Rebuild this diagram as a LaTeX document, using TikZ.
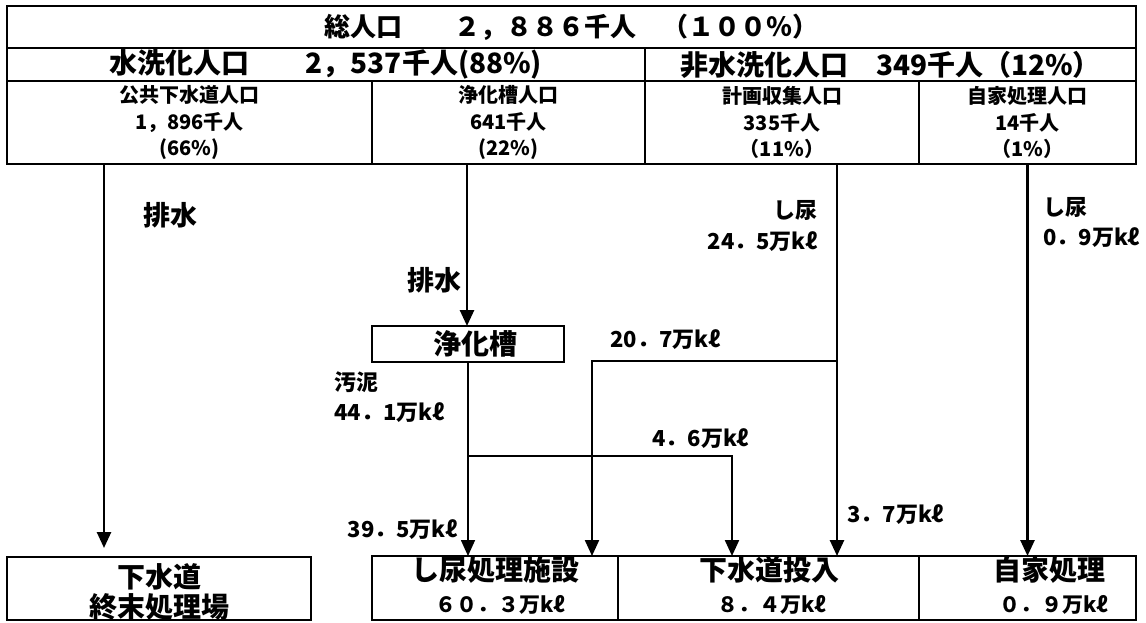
\documentclass[tikz,border=0pt]{standalone}
\usepackage{fontspec}
\setmainfont{Noto Sans CJK JP}
\usetikzlibrary{arrows.meta}
\begin{document}
\begin{tikzpicture}[x=1pt,y=-1pt,
  box/.style={draw, line width=2.6pt, inner sep=0pt, outer sep=0pt},
  cell/.style={box, align=center, font=\fontsize{20}{26.5}\selectfont\bfseries},
  tip/.style={-{Triangle[length=16pt,width=14pt]}},
  flow/.style={tip, line width=2.6pt},
  flowb/.style={tip, line width=2.2pt},
  flowc/.style={tip, line width=1.6pt},
  lbl/.style={inner sep=0pt, font=\fontsize{22}{22}\selectfont\bfseries},
  big/.style={inner sep=0pt, font=\fontsize{28}{28}\selectfont\bfseries},
  mid/.style={inner sep=0pt, font=\fontsize{21}{21}\selectfont\bfseries}
]
\useasboundingbox (0,0) rectangle (1146,622);
% top table
\node[box, minimum width=1129pt, minimum height=42pt, font=\fontsize{26}{26}\selectfont\bfseries] (total) at (571.5,27) {総人口　　２，８８６千人　（１００％）};
\node[box, minimum width=638pt, minimum height=33pt, font=\fontsize{28}{28}\selectfont\bfseries] (wash) at (326,64.5) {水洗化人口　　2，537千人(88\%)};
\node[box, minimum width=491pt, minimum height=33pt, font=\fontsize{28}{28}\selectfont\bfseries] (nonwash) at (890.5,64.5) {非水洗化人口　349千人（12\%）};
\node[cell, minimum width=365pt, minimum height=83pt] (pub) at (189.5,122.5) {公共下水道人口\\1，896千人\\(66\%)};
\node[cell, minimum width=273pt, minimum height=83pt] (sep) at (508.5,122.5) {浄化槽人口\\641千人\\(22\%)};
\node[cell, minimum width=274pt, minimum height=83pt] (plan) at (782,122.5) {計画収集人口\\335千人\\（11\%）};
\node[cell, minimum width=217pt, minimum height=83pt] (selfp) at (1027.5,122.5) {自家処理人口\\14千人\\（1\%）};
% septic tank
\node[box, minimum width=192pt, minimum height=36pt] (tank) at (468,344) {};
\node[big] (tanktxt) at (475,344) {浄化槽};
% bottom boxes
\node[box, minimum width=304pt, minimum height=63pt] (plant) at (159,588.5) {};
\node[big] (plantA) at (159,577) {下水道};
\node[big] (plantB) at (159,607) {終末処理場};
\node[box, minimum width=246pt, minimum height=64pt] (night) at (495,588) {};
\node[big] (nightA) at (495,570) {し尿処理施設};
\node[mid] (nightB) at (500,605) {６０．３万kℓ};
\node[box, minimum width=301pt, minimum height=64pt] (sewin) at (768.5,588) {};
\node[big] (sewinA) at (769,570) {下水道投入};
\node[mid] (sewinB) at (772,605) {８．４万kℓ};
\node[box, minimum width=217pt, minimum height=64pt] (self) at (1027.5,588) {};
\node[big] (selfA) at (1049,570) {自家処理};
\node[mid] (selfB) at (1054,605) {０．９万kℓ};
% flows
\coordinate (a1) at (104,548);
\draw[flow] (pub.south -| a1) -- (a1);
\draw[flow] (sep.south -| 467,0) -- (tank.north -| 467,0);
\draw[flowc] (tank.south) -- (night.north -| tank.south);
\coordinate (j1) at (468,456);
\coordinate (k1) at (732,456);
\draw[flowb] (j1) -- (k1) -- (sewin.north -| k1);
\coordinate (c3) at (837,361);
\draw[flow] (plan.south -| c3) -- (sewin.north -| c3);
\coordinate (k2) at (592,361);
\draw[flowb] (c3) -- (k2) -- (night.north -| k2);
\draw[flow] (selfp.south) -- (self.north);
% labels
\node[inner sep=0pt, font=\fontsize{27}{27}\selectfont\bfseries] (drain1) at (170,215) {排水};
\node[inner sep=0pt, font=\fontsize{27}{27}\selectfont\bfseries] (drain2) at (434,280) {排水};
\node[lbl, anchor=west] (sludge) at (334,382) {汚泥};
\node[lbl, anchor=west] (sludgev) at (334,413) {44．1万kℓ};
\node[lbl, anchor=east] (nsA) at (818,210) {し尿};
\node[lbl, anchor=east] (nsB) at (818,242) {24．5万kℓ};
\node[lbl, anchor=west] (nsC) at (1043,207) {し尿};
\node[lbl, anchor=west] (nsD) at (1043,238) {0．9万kℓ};
\node[lbl, anchor=west] (v207) at (610,340) {20．7万kℓ};
\node[lbl, anchor=west] (v46) at (652,439) {4．6万kℓ};
\node[lbl, anchor=east] (v395) at (458,530) {39．5万kℓ};
\node[lbl, anchor=west] (v37) at (847,515) {3．7万kℓ};
\end{tikzpicture}
\end{document}
